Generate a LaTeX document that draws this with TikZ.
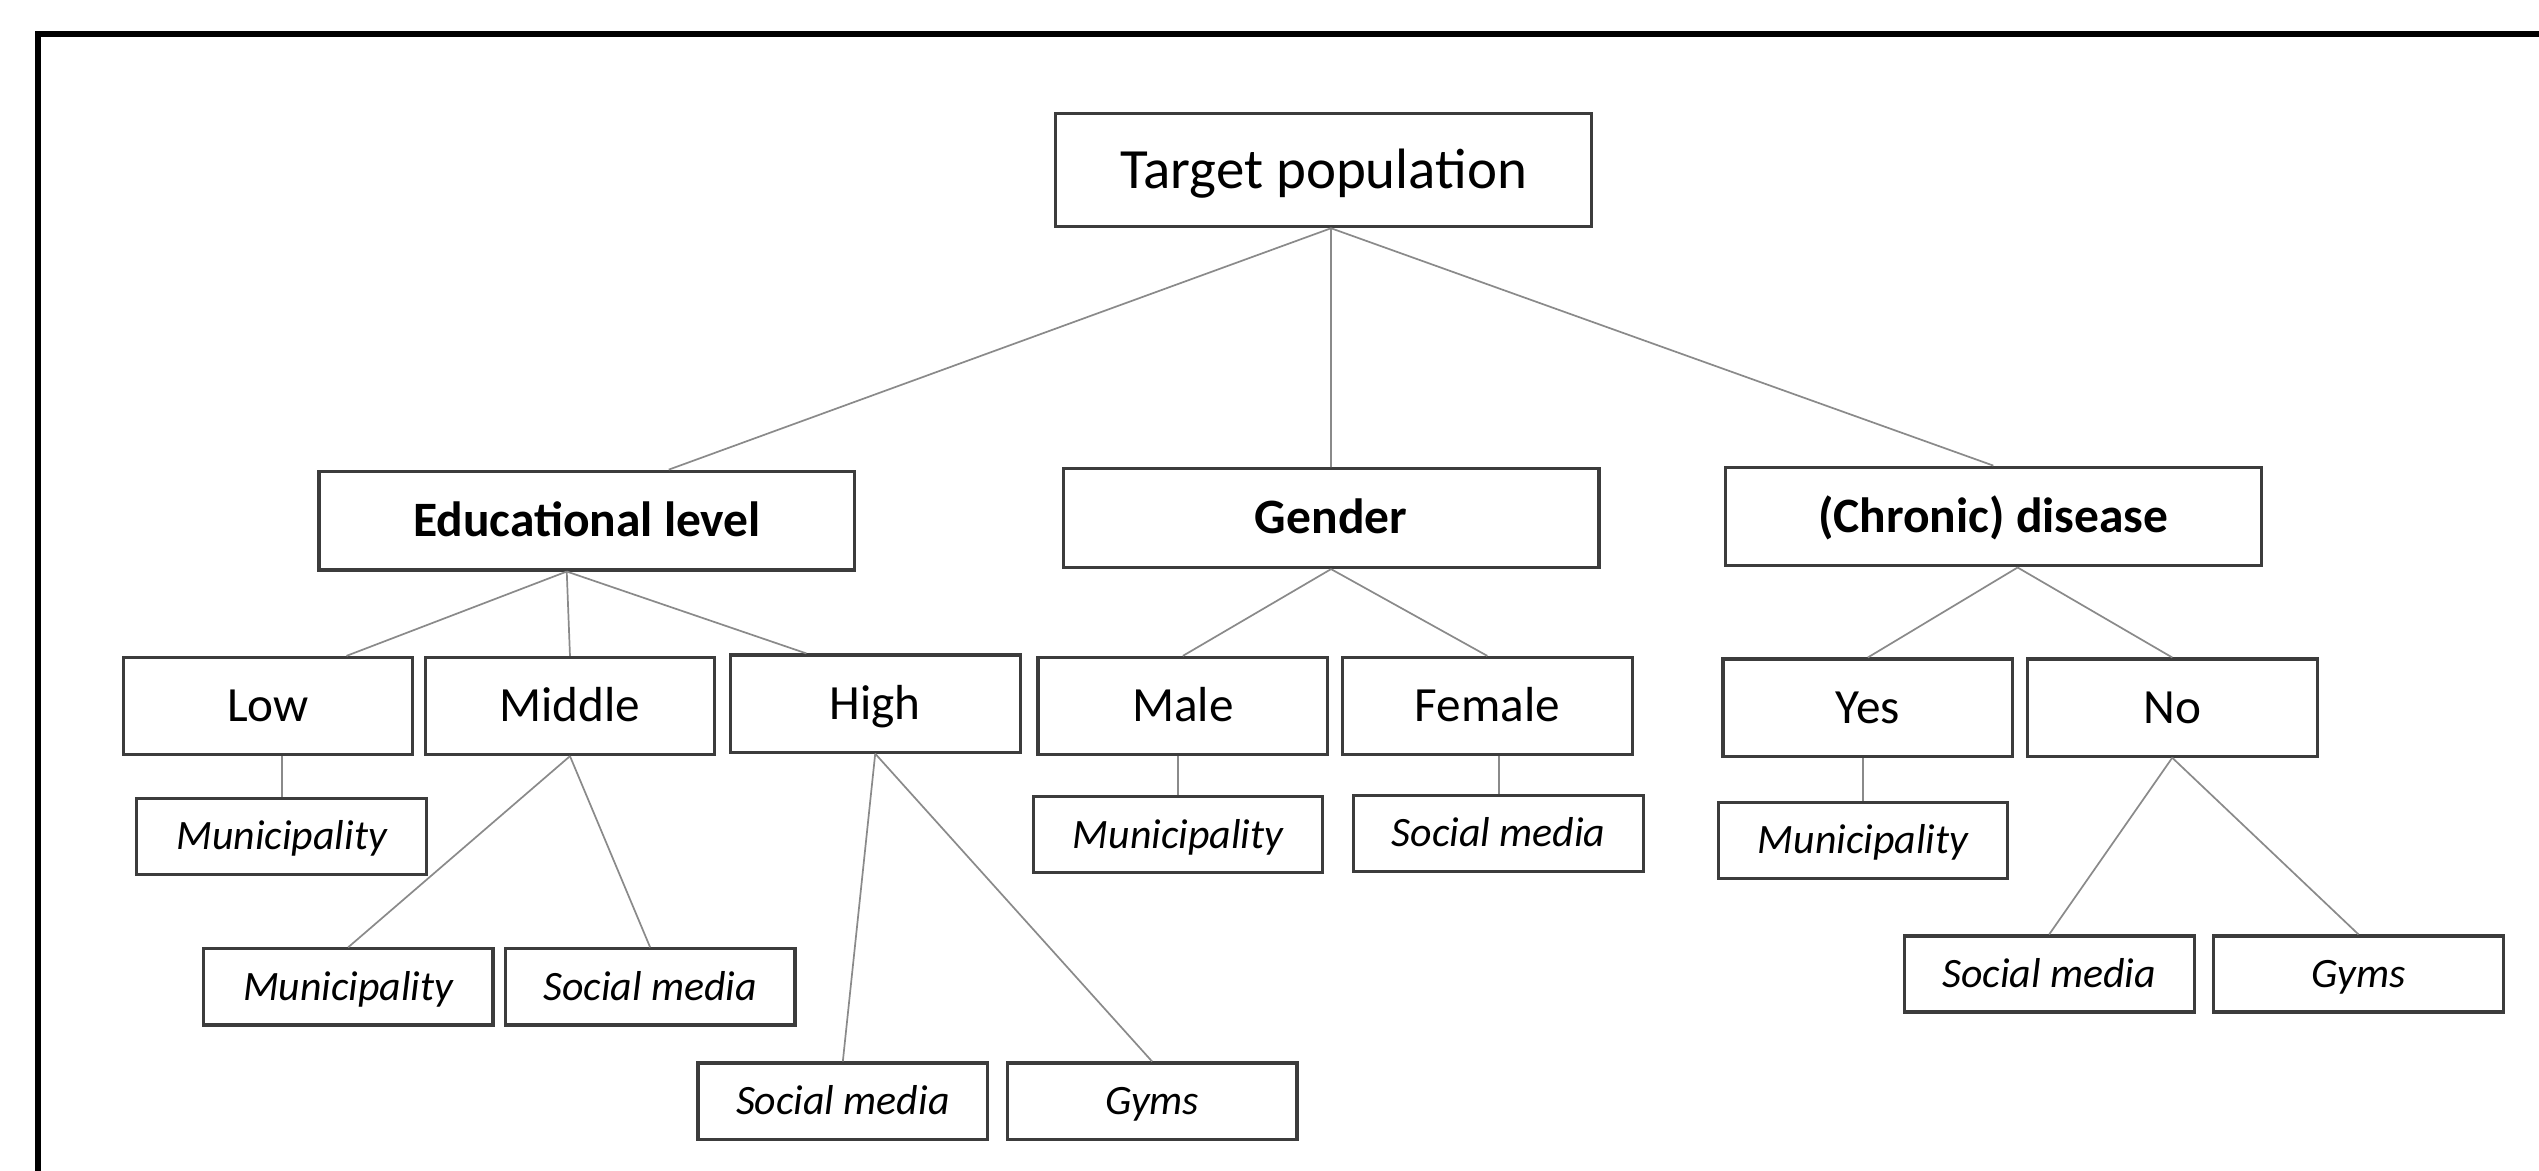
\documentclass[tikz,border=0pt]{standalone}
\usepackage{fontspec}
\setmainfont{Carlito}
\definecolor{boxgray}{HTML}{3C3C3C}
\definecolor{linegray}{HTML}{8A8A8A}
\begin{document}
\begin{tikzpicture}[x=0.02cm,y=-0.02cm,
  box/.style={draw=boxgray, line width=1.1pt, fill=white, inner sep=0pt, align=center, text depth=0pt},
  toplevel/.style={box, minimum width=6.62cm, minimum height=1.40cm, text height=12.8pt, font=\fontsize{20}{24}\selectfont},
  category/.style={box, minimum width=6.62cm, minimum height=1.22cm, text height=11.1pt, font=\bfseries\fontsize{17.4}{21}\selectfont},
  level/.style={box, minimum width=3.58cm, minimum height=1.20cm, text height=11.1pt, font=\fontsize{17.3}{21}\selectfont},
  source/.style={box, minimum width=3.58cm, minimum height=0.94cm, text height=9.4pt, font=\itshape\fontsize{14.7}{18}\selectfont},
  link/.style={draw=linegray, line width=0.6pt}]
\useasboundingbox (0,0) rectangle (1568,723);
% frame
\draw[line width=2.3pt, black, line join=miter] (23.5,723) -- (23.5,21) -- (1568,21);

% top
\node[toplevel] (tp) at (817.5,105) {Target population};
% categories
\node[category] (edu) at (362.5,321.5) {Educational level};
\node[category] (gen) at (822,320) {Gender};
\node[category] (chr) at (1231,319) {(Chronic) disease};
% levels
\node[level] (low) at (165.5,436) {Low};
\node[level] (mid) at (352,436) {Middle};
\node[level] (high) at (540.5,434.5) {High};
\node[level] (male) at (730.5,436) {Male};
\node[level] (fem) at (918.5,436) {Female};
\node[level] (yes) at (1153.5,437) {Yes};
\node[level] (no) at (1341.5,437) {No};
% sources
\node[source] (mlow) at (174,516.5) {Municipality};
\node[source] (mmid) at (215,609.5) {Municipality};
\node[source] (smid) at (401.5,609.5) {Social media};
\node[source] (shigh) at (520.5,680) {Social media};
\node[source] (ghigh) at (711.5,680) {Gyms};
\node[source] (mmale) at (727.5,515.5) {Municipality};
\node[source] (sfem) at (925.5,514.5) {Social media};
\node[source] (myes) at (1150.5,519) {Municipality};
\node[source] (sno) at (1265.5,601.5) {Social media};
\node[source] (gno) at (1456.5,601.5) {Gyms};

% connectors
\draw[link] ([xshift=0.09cm]tp.south) -- ([xshift=1.01cm]edu.north);
\draw[link] ([xshift=0.09cm]tp.south) -- (gen.north);
\draw[link] ([xshift=0.09cm]tp.south) -- (chr.north);

\draw[link] ([xshift=-0.25cm]edu.south) -- ([xshift=0.97cm]low.north);
\draw[link] ([xshift=-0.25cm]edu.south) -- (mid.north);
\draw[link] ([xshift=-0.25cm]edu.south) -- ([xshift=-0.85cm]high.north);

\draw[link] (gen.south) -- (male.north);
\draw[link] (gen.south) -- (fem.north);

\draw[link] ([xshift=0.3cm]chr.south) -- (yes.north);
\draw[link] ([xshift=0.3cm]chr.south) -- (no.north);

\draw[link] (mlow.north) -- (mlow.north |- low.south);
\draw[link] (mid.south) -- (mmid.north);
\draw[link] (mid.south) -- (smid.north);
\draw[link] (high.south) -- (shigh.north);
\draw[link] (high.south) -- (ghigh.north);
\draw[link] (mmale.north) -- (mmale.north |- male.south);
\draw[link] (sfem.north) -- (sfem.north |- fem.south);
\draw[link] (myes.north) -- (myes.north |- yes.south);
\draw[link] (no.south) -- (sno.north);
\draw[link] (no.south) -- (gno.north);
\end{tikzpicture}
\end{document}
